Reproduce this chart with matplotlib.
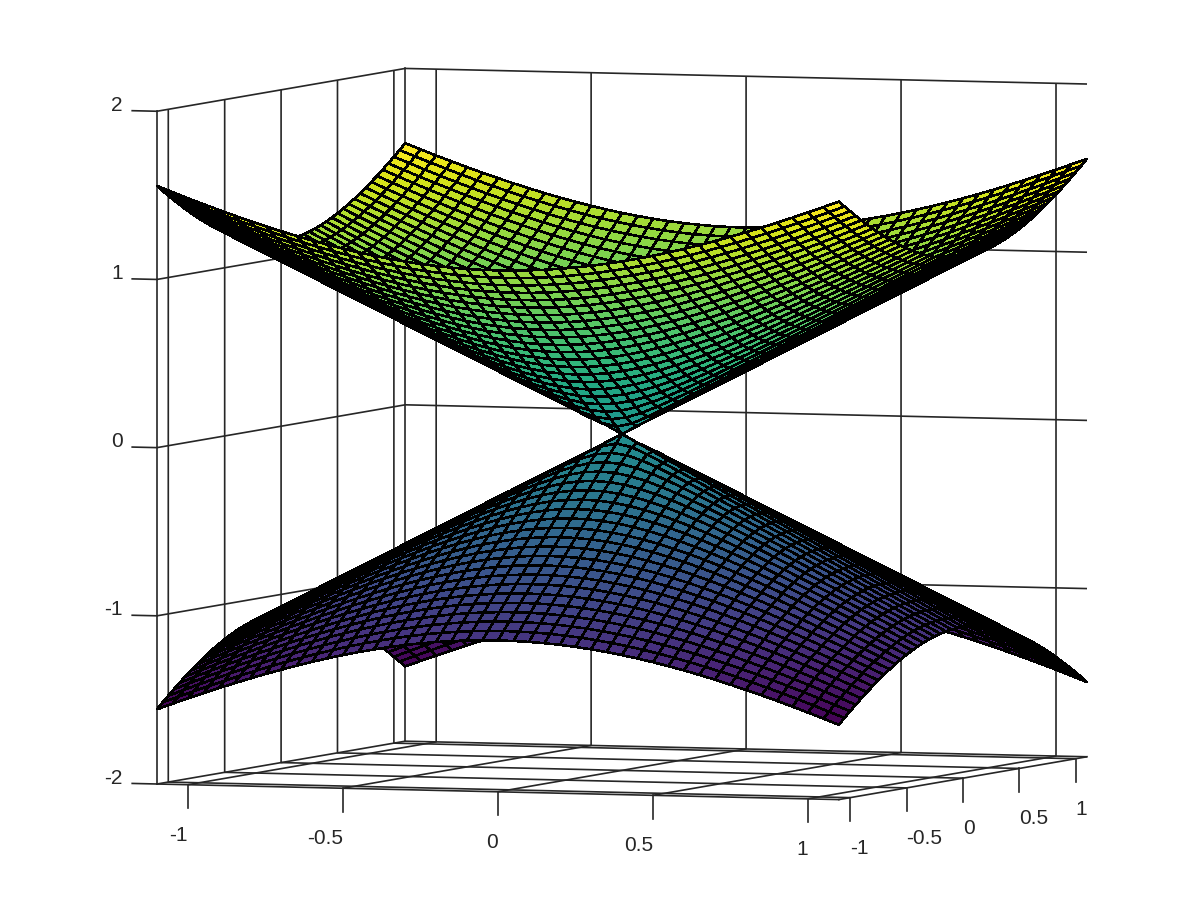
import numpy as np
import matplotlib
matplotlib.use("Agg")
import matplotlib.pyplot as plt
from matplotlib.ticker import NullFormatter
from mpl_toolkits.mplot3d import proj3d

# Chart content: a Dirac cone on a regular grid (analytic surface, not sampled values)
grid_start, grid_stop, grid_step = -1.1, 1.1, 0.05
x_ticks = [-1, -0.5, 0, 0.5, 1]
y_ticks = [-1, -0.5, 0, 0.5, 1]
z_ticks = [-2, -1, 0, 1, 2]
x_labels = ["-1", "-0.5", "0", "0.5", "1"]
y_labels = ["-1", "-0.5", "0", "0.5", "1"]
z_labels = ["-2", "-1", "0", "1", "2"]
x_limits = (-1.1, 1.1)
y_limits = (-1.1, 1.1)
z_limits = (-2, 2)

INK = "#262626"
LW = 1.2
plt.rcParams["font.family"] = ["Liberation Sans", "DejaVu Sans"]

xs = np.linspace(grid_start, grid_stop, int(round((grid_stop - grid_start) / grid_step)) + 1)
X, Y = np.meshgrid(xs, xs)
Z = np.sqrt(X**2 + Y**2)

fig = plt.figure(figsize=(12, 9), dpi=100, facecolor="white")
ax = fig.add_axes([0, -1 / 6, 1, 4 / 3], projection="3d", proj_type="ortho")
ax.computed_zorder = False
ax.view_init(elev=3.6, azim=-70.0)
ax.set_xlim(*x_limits, view_margin=0)
ax.set_ylim(*y_limits, view_margin=0)
ax.set_zlim(*z_limits, view_margin=0)

vmax = Z.max()
for sign in (1, -1):
    ax.plot_surface(X, Y, sign * Z, rstride=1, cstride=1, cmap="viridis",
                    vmin=-vmax, vmax=vmax, edgecolor="black", linewidth=1.1,
                    shade=False, antialiased=False, zorder=5)

# Vertical box edges: back corner and front-left corner
ax.plot([x_limits[0]] * 2, [y_limits[1]] * 2, z_limits, color=INK, lw=LW, zorder=1)
ax.plot([x_limits[0]] * 2, [y_limits[0]] * 2, z_limits, color=INK, lw=LW, zorder=1)

ax.set_xticks(x_ticks)
ax.set_yticks(y_ticks)
ax.set_zticks(z_ticks)

for axis in (ax.xaxis, ax.yaxis, ax.zaxis):
    axis.set_pane_color((1, 1, 1, 0))
    axis.pane.set_edgecolor((1, 1, 1, 0))
    axis.line.set_color(INK)
    axis.line.set_linewidth(LW)
    axis._axinfo["grid"].update(color=INK, linewidth=LW, linestyle="-")
    axis._axinfo["tick"].update(inward_factor=0.0, outward_factor=0.0)
    axis.set_major_formatter(NullFormatter())
ax.zaxis.line.set_color((1, 1, 1, 0))

# Tick marks hang off the box edges, as in the reference
TICK_Z = 0.14
TICK_X = 0.08
for x in x_ticks:
    ax.plot([x, x], [y_limits[0]] * 2, [z_limits[0], z_limits[0] - TICK_Z], color=INK, lw=LW, zorder=2)
for y in y_ticks:
    ax.plot([x_limits[1]] * 2, [y, y], [z_limits[0], z_limits[0] - TICK_Z], color=INK, lw=LW, zorder=2)
for z in z_ticks:
    ax.plot([x_limits[0], x_limits[0] - TICK_X], [y_limits[0]] * 2, [z, z], color=INK, lw=LW, zorder=2)

# Fit the box to the reference's pixel frame
target_left = (157.0, 900 - 784.0)
target_right = (1087.0, 900 - 757.0)
ASPECT = (1, 1, 0.929)

def corner_px(x, y, z):
    px, py, _ = proj3d.proj_transform(x, y, z, ax.get_proj())
    return ax.transData.transform((px, py))

ax.set_box_aspect(ASPECT, zoom=1.0)
fig.canvas.draw()
a = corner_px(x_limits[0], y_limits[0], z_limits[0])
b = corner_px(x_limits[1], y_limits[1], z_limits[0])
zoom = (target_right[0] - target_left[0]) / (b[0] - a[0])
ax.set_box_aspect(ASPECT, zoom=zoom)
fig.canvas.draw()
a = corner_px(x_limits[0], y_limits[0], z_limits[0])
ax.set_position([(target_left[0] - a[0]) / 1200, -1 / 6 + (target_left[1] - a[1]) / 900, 1, 4 / 3])
fig.canvas.draw()

# Tick labels sit at the projected tick positions, as plain figure text
LABEL_Z = 0.30
LABEL_X = 0.11
LABEL_RISE = 0.03
FONT = 15

def put_label(x, y, z, s, ha):
    px, py = corner_px(x, y, z)
    fig.text(px / 1200, py / 900, s, ha=ha, va="center", fontsize=FONT, color=INK)

for x, s in zip(x_ticks, x_labels):
    put_label(x, y_limits[0], z_limits[0] - LABEL_Z, s, "right")
for y, s in zip(y_ticks, y_labels):
    put_label(x_limits[1], y, z_limits[0] - LABEL_Z, s, "left")
for z, s in zip(z_ticks, z_labels):
    put_label(x_limits[0] - LABEL_X, y_limits[0], z + LABEL_RISE, s, "right")

fig.savefig("out.png", dpi=100, facecolor="white")
